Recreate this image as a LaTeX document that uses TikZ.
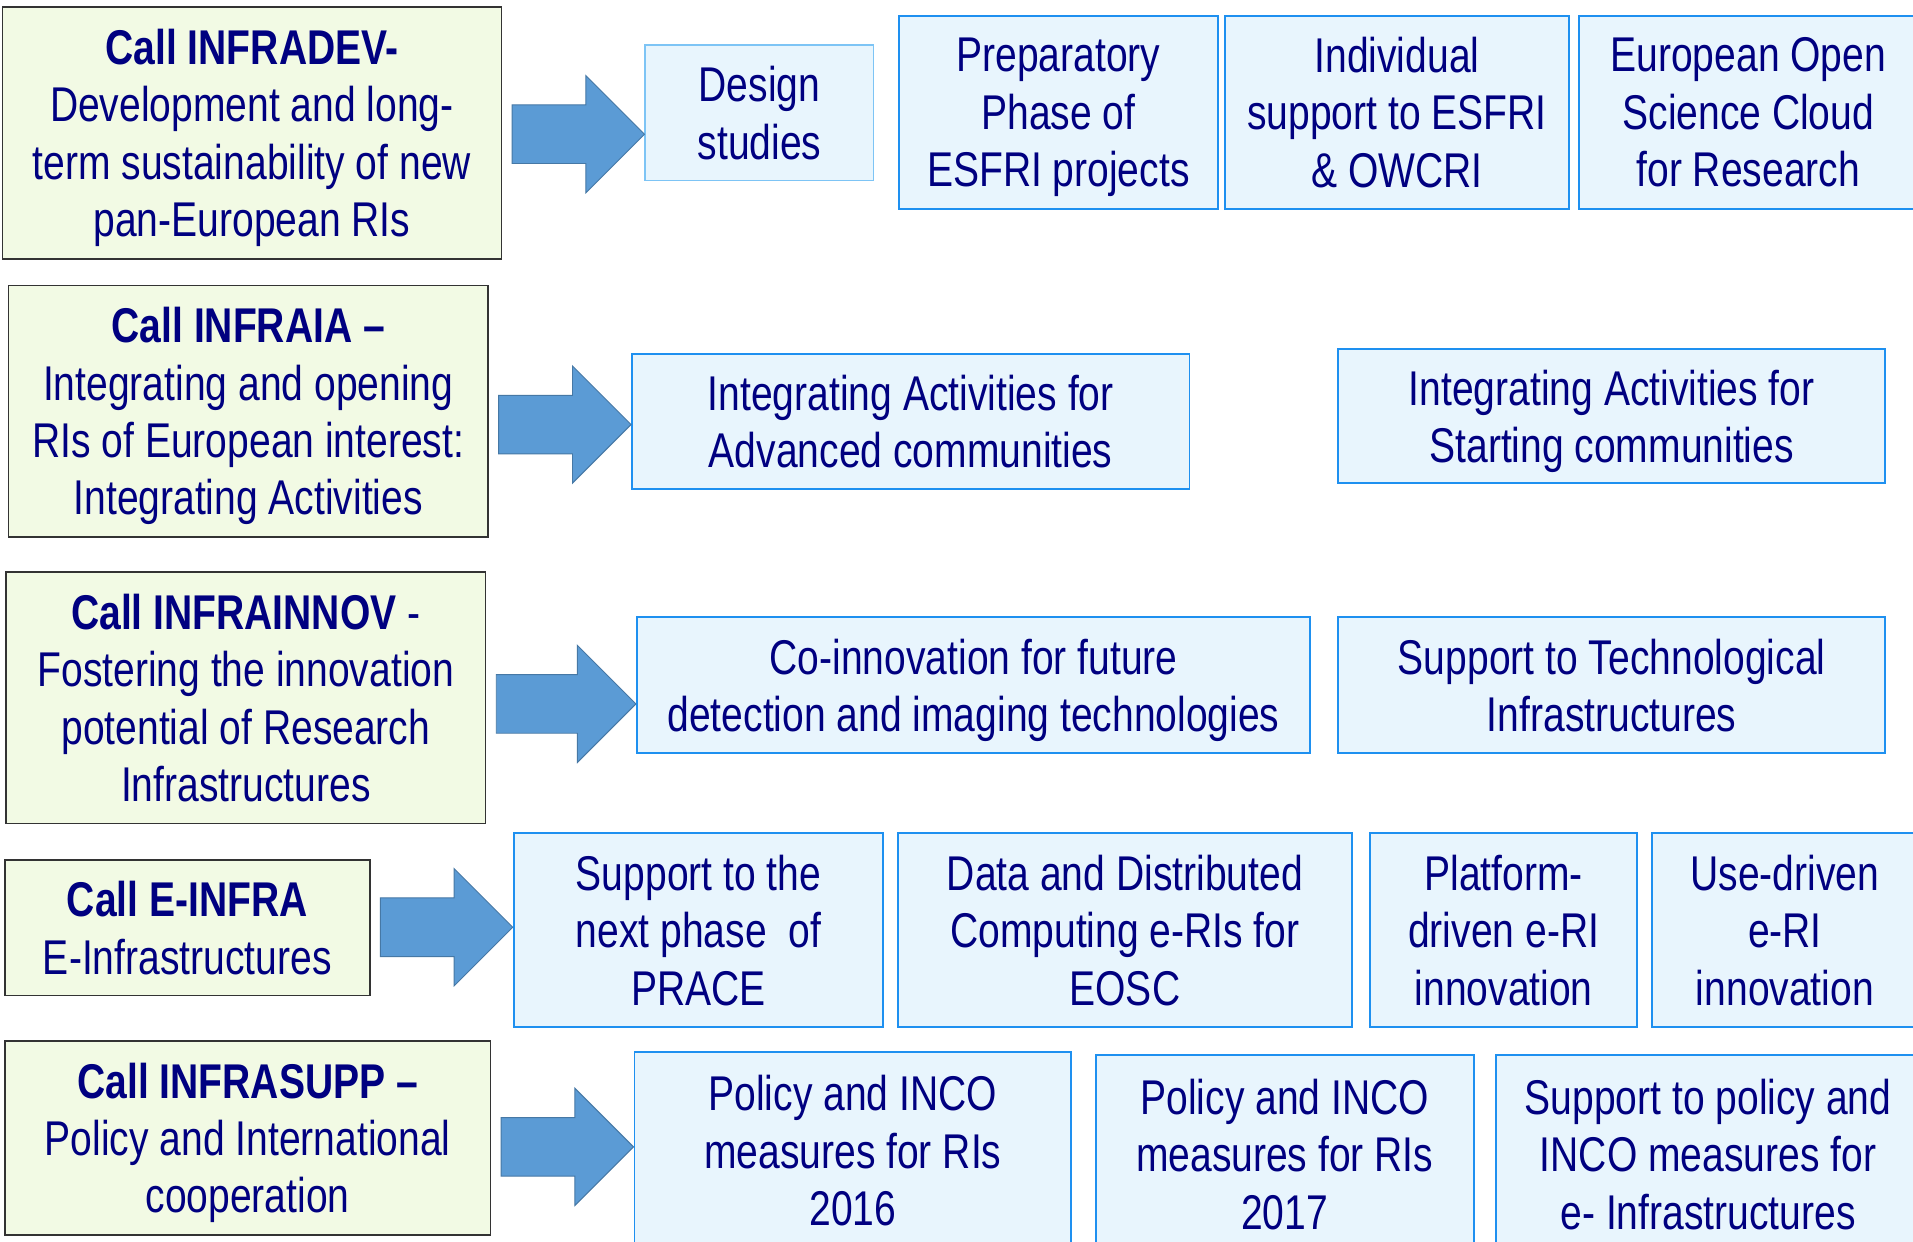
\documentclass[tikz,border=0pt]{standalone}
\usepackage{fontspec}
\setmainfont{Liberation Sans}[FakeStretch=0.8]
\usetikzlibrary{calc}

\definecolor{callfill}{RGB}{242,250,228}
\definecolor{callline}{RGB}{51,51,51}
\definecolor{actfill}{RGB}{232,245,253}
\definecolor{actline}{RGB}{30,144,240}
\definecolor{lightline}{RGB}{125,196,245}
\definecolor{textblue}{RGB}{0,0,128}
\definecolor{arrowfill}{RGB}{91,155,213}
\definecolor{arrowline}{RGB}{70,120,165}

\tikzset{
  boxtext/.style={inner sep=0pt, align=center, text=textblue, text depth=0pt,
    font=\fontsize{40}{47}\selectfont},
  callbox/.style={boxtext, draw=callline, fill=callfill, line width=1.5pt},
  actbox/.style={boxtext, draw=actline, fill=actfill, line width=1.5pt},
  bigarrow/.style={fill=arrowfill, draw=arrowline, line width=0.8pt}
}

\newcommand{\blockarrow}[3]{%
  \filldraw[bigarrow] let \p1=(#1.east), \p2=(#2.west), \p3=(0,#3) in
    (\x1+8pt,\y3+24pt) -- (\x2-48pt,\y3+24pt) -- (\x2-48pt,\y3+48pt) -- (\x2,\y3)
    -- (\x2-48pt,\y3-48pt) -- (\x2-48pt,\y3-24pt) -- (\x1+8pt,\y3-24pt) -- cycle;}

\begin{document}
\begin{tikzpicture}[x=1pt, y=-1pt]
  \clip (0,0) rectangle (1568,1018);
  \fill[white] (0,0) rectangle (1568,1018);

  \node[callbox, minimum width=409pt, minimum height=206pt] (infradev) at (206.5,109)
    {\textbf{Call INFRADEV-}\\Development and long-\\term sustainability of new\\pan-European RIs};
  \node[callbox, minimum width=393pt, minimum height=206pt] (infraia) at (203.5,337)
    {\textbf{Call INFRAIA –}\\Integrating and opening\\RIs of European interest:\\Integrating Activities};
  \node[callbox, minimum width=393pt, minimum height=206pt] (infrainnov) at (201.5,572)
    {\textbf{Call INFRAINNOV} -\\Fostering the innovation\\potential of Research\\Infrastructures};
  \node[callbox, minimum width=299pt, minimum height=111pt] (einfra) at (153.5,760.5)
    {\textbf{Call E-INFRA}\\E-Infrastructures};
  \node[callbox, minimum width=398pt, minimum height=159pt] (infrasupp) at (203,932.5)
    {\textbf{Call INFRASUPP –}\\Policy and International\\cooperation};

  \node[actbox, draw=lightline, minimum width=187pt, minimum height=111pt] (design) at (622.5,92.5)
    {Design\\studies};
  \node[actbox, minimum width=261pt, minimum height=158pt] (prep) at (867.5,92)
    {Preparatory\\Phase of\\ESFRI projects};
  \node[actbox, minimum width=282pt, minimum height=158pt] (indiv) at (1145,92)
    {Individual\\support to ESFRI\\\& OWCRI};
  \node[actbox, minimum width=278pt, minimum height=158pt] (eosc) at (1433,92)
    {European Open\\Science Cloud\\for Research};

  \node[actbox, minimum width=457pt, minimum height=111pt] (iaadv) at (746.5,345.5)
    {Integrating Activities for\\Advanced communities};
  \node[actbox, minimum width=448pt, minimum height=110pt] (iastart) at (1321,341)
    {Integrating Activities for\\Starting communities};

  \node[actbox, minimum width=552pt, minimum height=111pt] (coinno) at (798,561.5)
    {Co-innovation for future\\detection and imaging technologies};
  \node[actbox, minimum width=448pt, minimum height=111pt] (suptech) at (1321,561.5)
    {Support to Technological\\Infrastructures};

  \node[actbox, minimum width=303pt, minimum height=159pt] (prace) at (572.5,762.5)
    {Support to the\\next phase\ \ of\\PRACE};
  \node[actbox, minimum width=372pt, minimum height=159pt] (eosc2) at (922,762.5)
    {Data and Distributed\\Computing e-RIs for\\EOSC};
  \node[actbox, minimum width=219pt, minimum height=159pt] (platform) at (1232.5,762.5)
    {Platform-\\driven e-RI\\innovation};
  \node[actbox, minimum width=218pt, minimum height=159pt] (usedriven) at (1463,762.5)
    {Use-driven\\e-RI\\innovation};

  \node[actbox, minimum width=358pt, minimum height=162pt] (pol16) at (699,943)
    {Policy and INCO\\measures for RIs\\2016};
  \node[actbox, minimum width=310pt, minimum height=162pt] (pol17) at (1053,946)
    {Policy and INCO\\measures for RIs\\2017};
  \node[actbox, minimum width=348pt, minimum height=162pt] (suppol) at (1400,946)
    {Support to policy and\\INCO measures for\\e- Infrastructures};

  \blockarrow{infradev}{design}{110}
  \blockarrow{infraia}{iaadv}{348}
  \blockarrow{infrainnov}{coinno}{577}
  \blockarrow{einfra}{prace}{760}
  \blockarrow{infrasupp}{pol16}{940}

\end{tikzpicture}
\end{document}
